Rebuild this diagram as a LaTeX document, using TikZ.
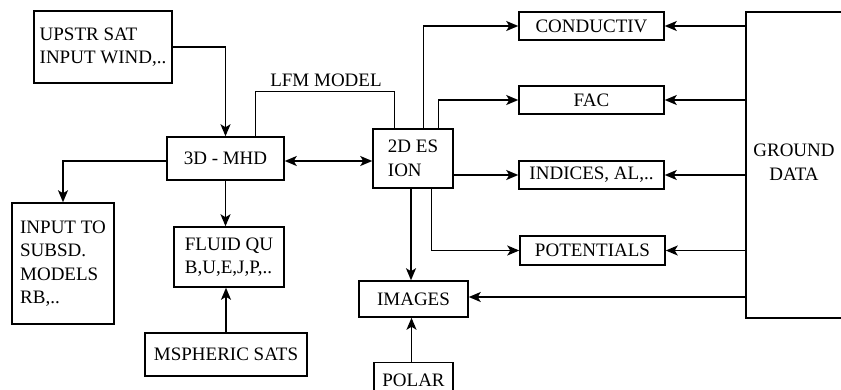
\documentclass[tikz,border=0pt]{standalone}
\usepackage{fontspec}
\setmainfont{Liberation Serif}
\usetikzlibrary{arrows.meta,calc}
\begin{document}
\begin{tikzpicture}[x=1pt,y=1pt,
  box/.style={draw, line width=1.5pt, inner sep=0pt, align=left, font=\fontsize{19}{23.5}\selectfont},
  lbl/.style={inner sep=0pt, align=center, font=\fontsize{19}{23.5}\selectfont},
  arr/.style={line width=1.5pt, -{Stealth[length=12pt,width=10pt,inset=3pt]}},
  darr/.style={line width=1.5pt, {Stealth[length=12pt,width=10pt,inset=3pt]}-{Stealth[length=12pt,width=10pt,inset=3pt]}},
  ln/.style={line width=1.5pt}]
\useasboundingbox (0,0) rectangle (841,-389);
\fill[white] (0,0) rectangle (841,-389);
% nodes
\node[box, minimum width=138, minimum height=72] (up) at (103,-47) {UPSTR SAT\\INPUT WIND,..};
\node[box, minimum width=117, minimum height=43] (mhd) at (225.5,-158.5) {3D - MHD};
\node[box, minimum width=80, minimum height=59] (es) at (413,-158.5) {2D ES\\ION};
\node[box, minimum width=102, minimum height=121] (inp) at (63,-263.5) {INPUT TO\\SUBSD.\\MODELS\\RB,..};
\node[box, minimum width=110, minimum height=60] (fluid) at (229,-257) {FLUID QU\\B,U,E,J,P,..};
\node[box, minimum width=162, minimum height=43] (msph) at (226,-354.5) {MSPHERIC SATS};
\node[box, minimum width=109, minimum height=36] (img) at (413.5,-299) {IMAGES};
\node[box, minimum width=79, minimum height=36] (polar) at (413.5,-380.5) {POLAR};
\node[box, minimum width=145, minimum height=28] (cond) at (591.5,-26) {CONDUCTIV};
\node[box, minimum width=145, minimum height=28] (fac) at (591.5,-100) {FAC};
\node[box, minimum width=145, minimum height=28] (ind) at (591.5,-175) {INDICES, AL,..};
\node[box, minimum width=145, minimum height=29] (pot) at (592.5,-250.5) {POTENTIALS};
\node[draw, line width=1.5pt, inner sep=0pt, minimum width=200, minimum height=306] (gnd) at (846,-165) {};
\node[lbl] (gtext) at (794,-162) {GROUND\\DATA};
\node[lbl] (lfm) at (326,-80) {LFM MODEL};
% connectors
\draw[arr] (up.east) -| (mhd.north);
\draw[ln] ([xshift=89pt]mhd.north west) -- ++(0,45) -| ([xshift=22pt]es.north west);
\draw[darr] ([yshift=-2.5pt]mhd.east) -- ([yshift=-2.5pt]es.west);
\draw[arr] ([yshift=-2.5pt]mhd.west) -| (inp.north);
\draw[arr] (mhd.south) -- (mhd.south |- fluid.north);
\draw[arr] (msph.north) -- (msph.north |- fluid.south);
\draw[arr] ([xshift=-2pt]es.south) -- ([xshift=-2pt]es.south |- img.north);
\draw[arr] ([xshift=-2pt]polar.north) -- ([xshift=-2pt]polar.north |- img.south);
\draw[arr] ([xshift=51pt]es.north west) |- (cond.west);
\draw[arr] ([xshift=66pt]es.north west) |- (fac.west);
\draw[arr] (es.east |- ind.west) -- (ind.west);
\draw[arr] ([xshift=59pt]es.south west) |- (pot.west);
\draw[arr] (gnd.west |- cond.east) -- (cond.east);
\draw[arr] (gnd.west |- fac.east) -- (fac.east);
\draw[arr] (gnd.west |- ind.east) -- (ind.east);
\draw[arr] (gnd.west |- pot.east) -- (pot.east);
\draw[arr] ([yshift=2pt]gnd.west |- img.east) -- ([yshift=2pt]img.east);
\end{tikzpicture}
\end{document}
